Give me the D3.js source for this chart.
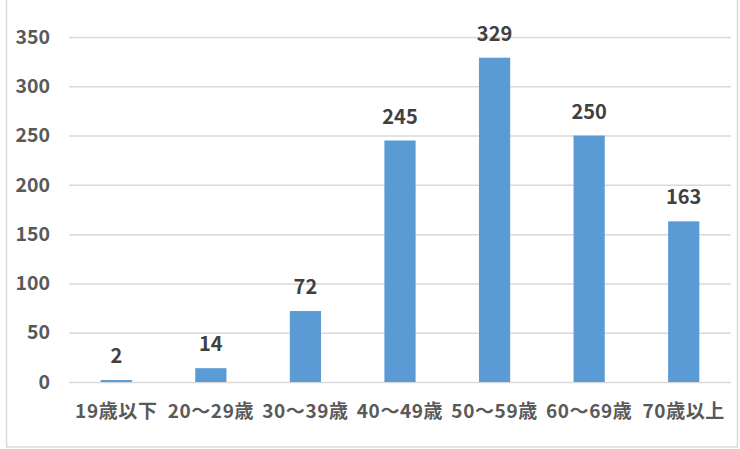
<!DOCTYPE html>
<html><head><meta charset="utf-8">
<script src="https://cdn.jsdelivr.net/npm/d3@7"></script>
<style>body{margin:0;background:#fff}svg{display:block}</style>
</head><body>
<script>
const categories = ["19歳以下","20～29歳","30～39歳","40～49歳","50～59歳","60～69歳","70歳以上"];
const values = [2,14,72,245,329,250,163];
const yTicks = [0,50,100,150,200,250,300,350];

const W=740,H=449;
const m={left:69,right:9,top:37,bottom:67};
const svg=d3.select("body").append("svg").attr("width",W).attr("height",H);
svg.append("rect").attr("x",6.5).attr("y",-5).attr("width",731).attr("height",452)
  .attr("fill","#fff").attr("stroke","#D9D9D9").attr("stroke-width",1.5);

const x=d3.scaleBand().domain(categories).range([m.left,W-m.right]).paddingInner(0.67).paddingOuter(0.335);
const y=d3.scaleLinear().domain([0,350]).range([H-m.bottom,m.top]);
const font='"Noto Sans CJK JP","Noto Sans",sans-serif';

const gy=svg.append("g").attr("transform",`translate(${m.left},0)`)
  .call(d3.axisLeft(y).tickValues(yTicks).tickSize(-(W-m.left-m.right)).tickPadding(19));
gy.select(".domain").remove();
gy.selectAll(".tick line").attr("stroke","#D9D9D9").attr("stroke-width",1.5);
gy.selectAll(".tick text").attr("fill","#595959").style("font-family",font)
  .style("font-size","19.5px").style("font-weight","bold");

svg.append("g").selectAll("rect").data(values).join("rect")
  .attr("x",(d,i)=>x(categories[i])).attr("width",x.bandwidth())
  .attr("y",d=>y(d)).attr("height",d=>y(0)-y(d)).attr("fill","#5B9BD5");

svg.append("g").selectAll("text").data(values).join("text")
  .attr("x",(d,i)=>x(categories[i])+x.bandwidth()/2).attr("y",d=>y(d)-17)
  .attr("text-anchor","middle").attr("fill","#404040")
  .style("font-family",font).style("font-size","20px").style("font-weight","bold")
  .text(d=>d);

const gx=svg.append("g").attr("transform",`translate(0,${H-m.bottom})`)
  .call(d3.axisBottom(x).tickSize(0).tickPadding(23));
gx.select(".domain").remove();
gx.selectAll(".tick text").attr("fill","#595959").style("font-family",font)
  .style("font-size","19px").style("font-weight","bold").style("letter-spacing","0.6px");
</script>
</body></html>
